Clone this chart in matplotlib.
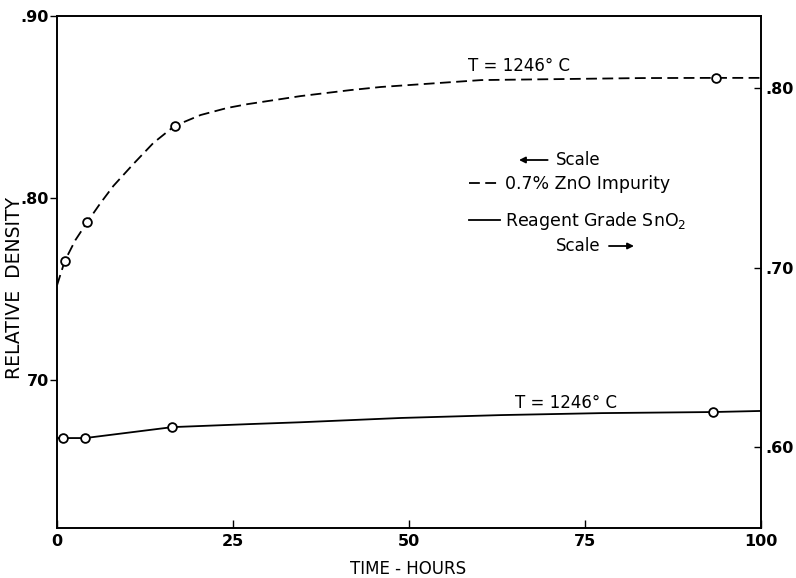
import numpy as np
import matplotlib
matplotlib.use("Agg")
import matplotlib.pyplot as plt

# 0.7% ZnO impurity (left scale) - measured points
zno_t = [1.1, 4.3, 16.7, 93.6]
zno_rho = [0.7654, 0.7868, 0.8396, 0.8660]
# drawn curve through them
zno_curve_t = [0, 1.1, 2.6, 4.3, 6.1, 8.0, 10.8, 13.7, 16.7, 20.4, 24.2, 27.1, 34.6, 41.7, 46.0, 60.3, 83.0, 93.6, 100]
zno_curve_rho = [0.752, 0.7654, 0.7768, 0.7868, 0.7968, 0.8066, 0.8185, 0.8303, 0.8396, 0.8456, 0.8495, 0.8516,
                 0.856, 0.8593, 0.861, 0.8648, 0.8659, 0.866, 0.866]

# reagent grade SnO2 (right scale)
sno_t = [0.85, 4.0, 16.4, 93.2]
sno_rho = [0.605, 0.605, 0.6111, 0.6195]
sno_curve_t = [0, 0.85, 4.0, 16.4, 27.5, 34.6, 48.9, 63.1, 77.4, 93.2, 100]
sno_curve_rho = [0.605, 0.605, 0.605, 0.6111, 0.6128, 0.6138, 0.6162, 0.6178, 0.6189, 0.6195, 0.6201]

x_ticks = [0, 25, 50, 75, 100]
left_ticks = [0.70, 0.80, 0.90]
left_labels = ['70', '.80', '.90']
right_ticks = [0.60, 0.70, 0.80]
right_labels = ['.60', '.70', '.80']

W, H = 796, 578
fig = plt.figure(figsize=(W / 100, H / 100), dpi=100)
ax = fig.add_axes([57 / W, 1 - 528 / H, 704 / W, 512 / H])
ax2 = ax.twinx()

lw = 1.3
ax.plot(zno_curve_t, zno_curve_rho, color='black', lw=lw, dashes=(6, 3))
ax.plot(zno_t, zno_rho, 'o', ms=6.3, mfc='white', mec='black', mew=1.3, zorder=3)
ax2.plot(sno_curve_t, sno_curve_rho, color='black', lw=lw)
ax2.plot(sno_t, sno_rho, 'o', ms=6.3, mfc='white', mec='black', mew=1.3, zorder=3)

ax.set_xlim(0, 100)
ax.set_ylim(0.6187, 0.90)
ax2.set_ylim(0.5549, 0.8401)

tick_font = dict(fontsize=11.5, fontweight='bold')
ax.set_xticks(x_ticks)
ax.set_xticklabels([str(v) for v in x_ticks], **tick_font)
ax.set_yticks(left_ticks)
ax.set_yticklabels(left_labels, **tick_font)
ax2.set_yticks(right_ticks)
ax2.set_yticklabels(right_labels, **tick_font)

ax.tick_params(axis='x', direction='in', length=6, width=1, pad=4)
ax.tick_params(axis='y', direction='out', length=5, width=1, pad=1)
ax2.tick_params(axis='y', direction='in', length=5, width=1, pad=3)
for a in (ax, ax2):
    for s in a.spines.values():
        s.set_linewidth(1.2)

fig.text(15 / W, 1 - 288 / H, 'RELATIVE  DENSITY', rotation=90, ha='center', va='center', fontsize=13.5)
fig.text(408 / W, 1 - 569 / H, 'TIME - HOURS', ha='center', va='center', fontsize=12)

# temperature notes
fig.text(519 / W, 1 - 66 / H, 'T = 1246° C', ha='center', va='center', fontsize=12)
fig.text(566 / W, 1 - 403 / H, 'T = 1246° C', ha='center', va='center', fontsize=12)

# key
ax.legend(handles=[ax.lines[0], ax2.lines[0]],
          labels=['0.7% ZnO Impurity', 'Reagent Grade SnO$_2$'],
          loc='upper left', bbox_to_anchor=(469 / W, 1 - 175 / H), bbox_transform=fig.transFigure,
          frameon=False, fontsize=12.5, handlelength=1.8, handletextpad=0.3, labelspacing=1.0,
          borderpad=0, borderaxespad=0)
arrow = dict(arrowstyle='-|>', color='black', lw=1.3, mutation_scale=9, shrinkA=4, shrinkB=0)
ax.annotate('Scale', xy=(519 / W, 1 - 160 / H), xycoords='figure fraction',
            xytext=(556 / W, 1 - 160 / H), textcoords='figure fraction',
            ha='left', va='center', fontsize=12, arrowprops=arrow)
ax.annotate('Scale', xy=(634 / W, 1 - 246 / H), xycoords='figure fraction',
            xytext=(556 / W, 1 - 246 / H), textcoords='figure fraction',
            ha='left', va='center', fontsize=12, arrowprops=arrow)

fig.savefig('out.png', dpi=100)
